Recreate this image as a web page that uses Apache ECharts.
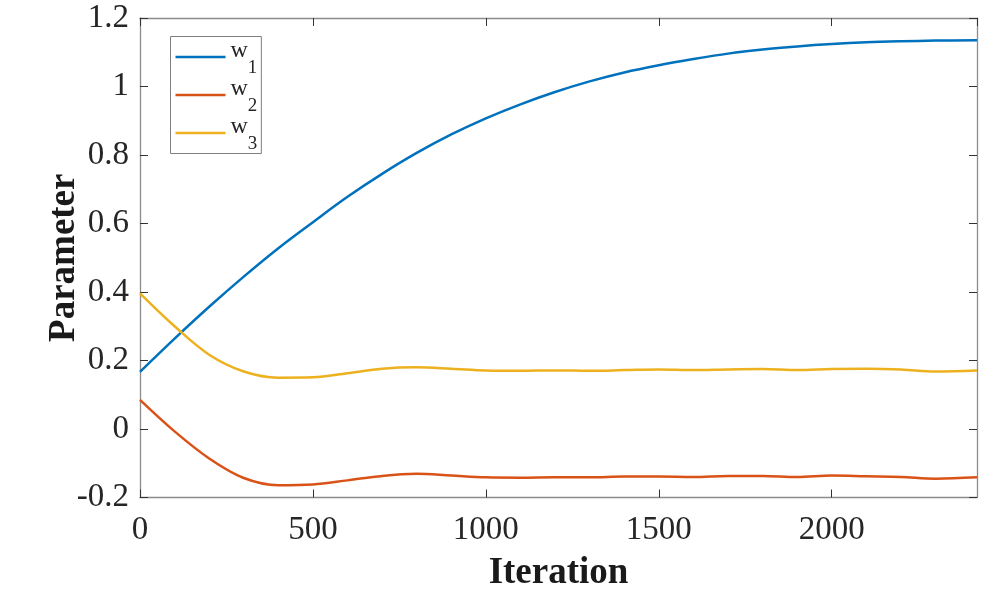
<!DOCTYPE html>
<html>
<head>
<meta charset="utf-8">
<script src="https://cdn.jsdelivr.net/npm/echarts@6/dist/echarts.min.js"></script>
<style>html,body{margin:0;padding:0;background:#fff}#c{width:995px;height:590px}</style>
</head>
<body>
<div id="c"></div>
<script>
const iterations = [0,100,200,300,400,500,600,700,800,900,1000,1100,1200,1300,1400,1500,1600,1700,1800,1900,2000,2100,2200,2300,2420];
const w1 = [0.167,0.264,0.357,0.445,0.528,0.604,0.678,0.745,0.806,0.860,0.907,0.948,0.984,1.015,1.041,1.062,1.080,1.096,1.108,1.117,1.124,1.129,1.132,1.134,1.135];
const w2 = [0.085,-0.007,-0.086,-0.143,-0.164,-0.162,-0.150,-0.137,-0.131,-0.136,-0.141,-0.142,-0.141,-0.141,-0.139,-0.139,-0.140,-0.137,-0.137,-0.140,-0.136,-0.138,-0.140,-0.145,-0.141];
const w3 = [0.396,0.300,0.217,0.168,0.150,0.151,0.163,0.176,0.180,0.176,0.171,0.170,0.171,0.170,0.172,0.174,0.172,0.174,0.175,0.172,0.175,0.176,0.174,0.168,0.171];
const seriesNames = ['w1','w2','w3'];
const subs = {w1:'1', w2:'2', w3:'3'};
const colors = ['#0072BD','#D95319','#EDB120'];
const xName = 'Iteration';
const yName = 'Parameter';

const FONT = '"Liberation Serif","Times New Roman",serif';
const chart = echarts.init(document.getElementById('c'), null, {renderer:'canvas'});
const pairs = arr => arr.map((v,i)=>[iterations[i], v]);
const axisLineStyle = {color:'#8c8c8c', width:1.3};
const tickStyle = {color:'#333', width:1};

chart.setOption({
  backgroundColor:'#fff',
  animation:false,
  grid:{left:140, right:18, top:18, bottom:92.5, containLabel:false, outerBoundsMode:'none'},
  legend:{
    orient:'vertical', left:170.5, top:36.5,
    itemWidth:50, itemHeight:2.5, itemGap:-9, itemTextGap:4,
    padding:[-3,4,-3,5],
    borderColor:'#7f7f7f', borderWidth:1, backgroundColor:'#fff',
    icon:'rect',
    data: seriesNames.map((n,i)=>({name:n, icon:'rect', itemStyle:{color:colors[i]}})),
    formatter: n => '{w|w}{s|' + subs[n] + '}',
    textStyle:{
      fontFamily:FONT, color:'#262626',
      rich:{
        w:{fontFamily:FONT, fontSize:24, lineHeight:18, padding:[5,0,18,0], color:'#262626'},
        s:{fontFamily:FONT, fontSize:19, lineHeight:18, padding:[23,0,0,0], color:'#262626'}
      }
    }
  },
  xAxis:[{
    type:'value', min:0, max:2420, interval:500, position:'bottom',
    name:xName, nameLocation:'middle', nameGap:57.5, nameMoveOverlap:false,
    nameTextStyle:{fontFamily:FONT, fontSize:37, fontWeight:'bold', color:'#1a1a1a'},
    axisLine:{show:true, onZero:false, lineStyle:axisLineStyle},
    axisTick:{show:true, inside:true, length:8, lineStyle:tickStyle},
    axisLabel:{fontFamily:FONT, fontSize:33, color:'#262626', margin:16, showMaxLabel:false,
      formatter: v => String(v)},
    splitLine:{show:false}
  },{
    type:'value', min:0, max:2420, interval:500, position:'top',
    axisLine:{show:true, onZero:false, lineStyle:axisLineStyle},
    axisTick:{show:true, inside:true, length:8, lineStyle:tickStyle},
    axisLabel:{show:false}, splitLine:{show:false}
  }],
  yAxis:[{
    type:'value', min:-0.2, max:1.2, interval:0.2, position:'left',
    name:yName, nameLocation:'middle', nameGap:57.5, nameRotate:90, nameMoveOverlap:false,
    nameTextStyle:{fontFamily:FONT, fontSize:37, fontWeight:'bold', color:'#1a1a1a'},
    axisLine:{show:true, onZero:false, lineStyle:axisLineStyle},
    axisTick:{show:true, inside:true, length:8, lineStyle:tickStyle},
    axisLabel:{fontFamily:FONT, fontSize:33, color:'#262626', margin:11,
      formatter: v => String(Math.round(v*10)/10)},
    splitLine:{show:false}
  },{
    type:'value', min:-0.2, max:1.2, interval:0.2, position:'right',
    axisLine:{show:true, onZero:false, lineStyle:axisLineStyle},
    axisTick:{show:true, inside:true, length:8, lineStyle:tickStyle},
    axisLabel:{show:false}, splitLine:{show:false}
  }],
  series:[w1,w2,w3].map((arr,i)=>({
    name:seriesNames[i], type:'line', data:pairs(arr), smooth:0.35,
    showSymbol:false, symbol:'none', xAxisIndex:0, yAxisIndex:0,
    lineStyle:{color:colors[i], width:2.5}, itemStyle:{color:colors[i]}
  }))
});
</script>
</body>
</html>
